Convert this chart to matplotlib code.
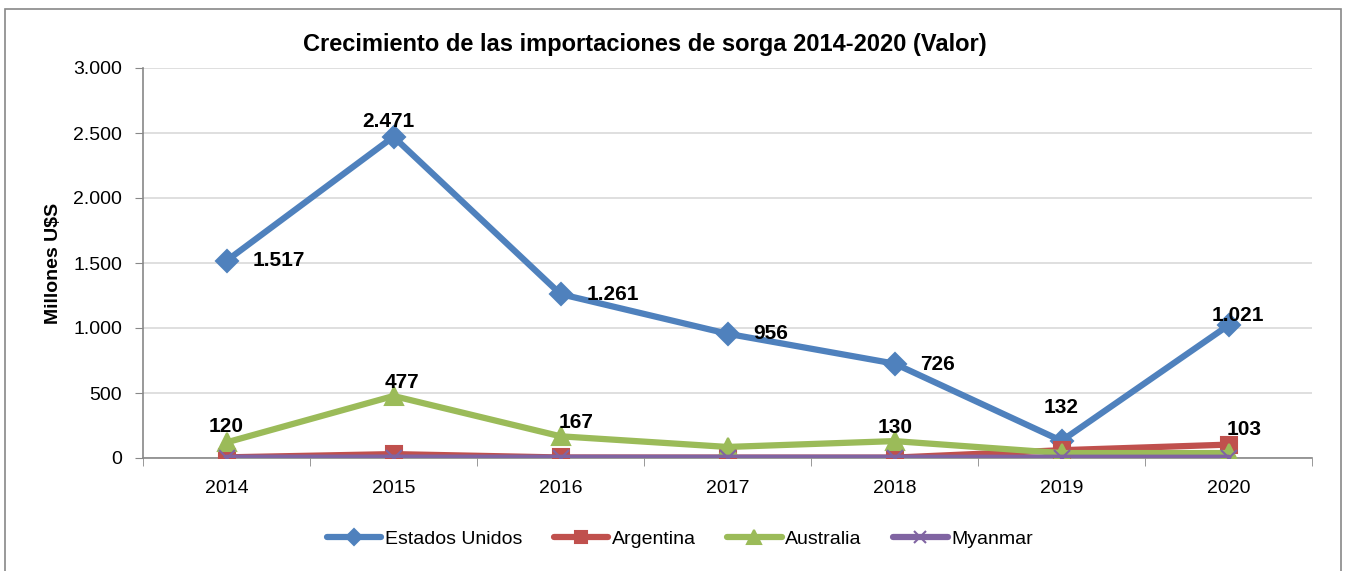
import matplotlib
matplotlib.use("Agg")
import matplotlib.pyplot as plt
from matplotlib.ticker import FuncFormatter
from matplotlib.patches import Rectangle

years = ["2014", "2015", "2016", "2017", "2018", "2019", "2020"]
estados_unidos = [1517, 2471, 1261, 956, 726, 132, 1021]
argentina = [5, 30, 4, 3, 3, 60, 103]
australia = [120, 477, 167, 85, 130, 38, 38]
myanmar = [2, 3, 2, 2, 2, 2, 2]

series_names = ["Estados Unidos", "Argentina", "Australia", "Myanmar"]
colors = ["#4F81BD", "#C0504D", "#9BBB59", "#8064A2"]
markers = ["D", "s", "^", "x"]
msizes = [11, 12, 13, 12]

FONT = ["Liberation Sans", "DejaVu Sans"]
plt.rcParams["font.family"] = FONT

fig = plt.figure(figsize=(13.52, 5.71), dpi=100)
ax = fig.add_axes([143/1352, 1 - 458/571, (1312-143)/1352, (458-68)/571])

x = list(range(len(years)))
all_series = [estados_unidos, argentina, australia, myanmar]
for vals, name, c, m, ms in zip(all_series, series_names, colors, markers, msizes):
    ax.plot(x, vals, color=c, lw=4.5, marker=m, markersize=ms,
            markeredgecolor=c, markeredgewidth=1.5,
            label=name, solid_capstyle="round", zorder=3)

ax.set_xlim(-0.5, len(years) - 0.5)
ax.set_ylim(0, 3000)
ax.set_yticks([0, 500, 1000, 1500, 2000, 2500, 3000])
ax.yaxis.set_major_formatter(FuncFormatter(lambda v, p: f"{int(v):,}".replace(",", ".")))
ax.set_xticks(x)
ax.set_xticklabels(years)
ax.set_xticks([i - 0.5 for i in range(len(years) + 1)], minor=True)
ax.tick_params(axis="x", which="major", length=0, labelsize=14, pad=16)
ax.tick_params(axis="x", which="minor", length=6, color="#888888", direction="out")
ax.tick_params(axis="y", length=6, color="#888888", labelsize=14, pad=9)
ax.grid(axis="y", color="#D9D9D9", lw=1.2, zorder=0)
for s in ["top", "right"]:
    ax.spines[s].set_visible(False)
for s in ["left", "bottom"]:
    ax.spines[s].set_color("#888888")
    ax.spines[s].set_linewidth(1.2)

ax.set_ylabel("Millones U$S", fontsize=14, fontweight="bold", labelpad=8)

def fmt(v):
    return f"{v:,}".replace(",", ".")

lab_kw = dict(fontsize=15, fontweight="bold", zorder=5, textcoords="offset pixels")
# (index, dx px, dy px, ha)
us_pos = [(0, 26, 0, "left"), (1, -5, 15, "center"), (2, 26, 0, "left"),
          (3, 26, 0, "left"), (4, 26, -1, "left"), (5, 0, 33, "center"),
          (6, 9, 10, "center")]
for i, dx, dy, ha in us_pos:
    ax.annotate(fmt(estados_unidos[i]), (i, estados_unidos[i]), xytext=(dx, dy),
                ha=ha, va="center", **lab_kw)
au_pos = [(0, 0, 16), (1, 8, 13), (2, 16, 14), (4, 1, 14)]
for i, dx, dy in au_pos:
    ax.annotate(fmt(australia[i]), (i, australia[i]), xytext=(dx, dy),
                ha="center", va="center", **lab_kw)
ax.annotate(fmt(argentina[6]), (6, argentina[6]), xytext=(16, 15),
            ha="center", va="center", **lab_kw)

fig.text(645/1352, 1 - 45/571, "Crecimiento de las importaciones de sorga 2014-2020 (Valor)",
         ha="center", va="center", fontsize=17, fontweight="bold")

handles, labels = ax.get_legend_handles_labels()
leg = fig.legend(handles, labels, loc="center", bbox_to_anchor=(680/1352, 1 - 539/571), ncol=4,
                 frameon=False, fontsize=14, handlelength=2.8, columnspacing=1.6,
                 handletextpad=0.2, markerscale=0.75)

fig.patches.append(Rectangle((5/1352, -0.01), (1341-5)/1352, 1 - 9/571 + 0.01,
                             transform=fig.transFigure, fill=False,
                             edgecolor="#888888", lw=1.2))

fig.savefig("out.png", dpi=100)
